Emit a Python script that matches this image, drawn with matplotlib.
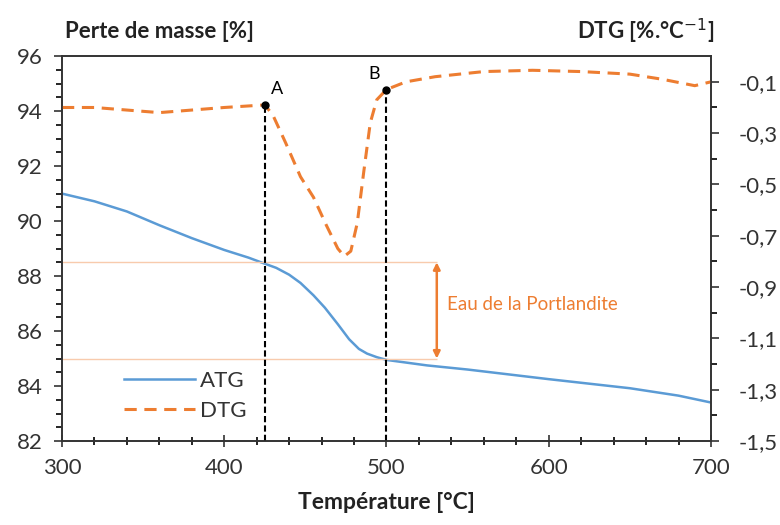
import numpy as np
import matplotlib
matplotlib.use('Agg')
import matplotlib.pyplot as plt
from matplotlib.ticker import MultipleLocator, FixedLocator, FuncFormatter

plt.rcParams['font.family'] = ['Lato', 'DejaVu Sans']

# ---- données ----
temp_atg = [300, 320, 340, 360, 380, 400, 415, 425, 432, 440, 447, 455, 462,
            470, 477, 483, 488, 494, 500, 525, 550, 600, 650, 680, 700]
atg = [91.0, 90.72, 90.35, 89.85, 89.38, 88.95, 88.67, 88.45, 88.3, 88.05,
       87.75, 87.3, 86.85, 86.25, 85.7, 85.35, 85.18, 85.05, 84.95, 84.75,
       84.6, 84.25, 83.92, 83.65, 83.4]

temp_dtg = [300, 320, 340, 360, 380, 400, 425, 430, 438, 447, 455, 463, 470,
            474, 478, 482, 486, 490, 494, 500, 512, 530, 560, 590, 620, 650,
            670, 690, 700]
dtg = [-0.20, -0.20, -0.21, -0.22, -0.21, -0.20, -0.19, -0.23, -0.34, -0.47,
       -0.55, -0.66, -0.75, -0.78, -0.76, -0.65, -0.45, -0.26, -0.17, -0.13,
       -0.10, -0.08, -0.06, -0.055, -0.06, -0.07, -0.09, -0.115, -0.10]

pts_label = ['A', 'B']
pts_temp = [425, 500]
pts_dtg = [-0.19, -0.13]

palier_haut = 88.5
palier_bas = 85.0
x_fleche = 531

orange = '#ED7D31'
bleu = '#5B9BD5'

fig = plt.figure(figsize=(7.8, 5.25), dpi=100)
ax = fig.add_axes([0.0795, 0.16, 0.832, 0.733])
ax2 = ax.twinx()

# ATG
l1, = ax.plot(temp_atg, atg, color=bleu, lw=1.8, label='ATG')
ax.set_xlim(300, 700)
ax.set_ylim(82, 96)
ax.yaxis.set_major_locator(MultipleLocator(2))
ax.yaxis.set_minor_locator(MultipleLocator(0.5))
ax.xaxis.set_major_locator(MultipleLocator(100))
ax.xaxis.set_minor_locator(MultipleLocator(20))
ax.tick_params(axis='y', which='major', direction='out', length=6, width=1.2,
               labelsize=16, colors='#333333', pad=8)
ax.tick_params(axis='y', which='minor', direction='out', length=4, width=1.2)
ax.tick_params(axis='x', which='major', direction='inout', length=8, width=1.2,
               labelsize=16, pad=8, colors='#333333')
ax.tick_params(axis='x', which='minor', direction='inout', length=6, width=1.2)

# paliers de masse
ax.hlines([palier_haut, palier_bas], 300, x_fleche, color='#F8CBAD', lw=1)
ax.annotate('', xy=(x_fleche, palier_bas), xytext=(x_fleche, palier_haut),
            arrowprops=dict(arrowstyle='<|-|>', color=orange, lw=1.8,
                            mutation_scale=10, shrinkA=0, shrinkB=0))
ax.text(x_fleche + 6, (palier_haut + palier_bas) / 2 + 0.2,
        'Eau de la Portlandite', color=orange, fontsize=13.5, va='center')

# DTG
l2, = ax2.plot(temp_dtg, dtg, color=orange, lw=2.2, dashes=(4, 2.5), label='DTG')
ax2.set_ylim(-1.5, 0)
ax2.yaxis.set_major_locator(FixedLocator(np.arange(-1.5, 0, 0.2)))
ax2.yaxis.set_minor_locator(FixedLocator(np.arange(-1.4, 0, 0.2)))
ax2.yaxis.set_major_formatter(FuncFormatter(lambda v, p: f'{v:.1f}'.replace('.', ',')))
ax2.tick_params(axis='y', which='major', direction='out', length=6, width=1.2,
                labelsize=16, pad=14, colors='#333333')
ax2.tick_params(axis='y', which='minor', direction='out', length=4, width=1.2)

# points A et B
ax2.vlines(pts_temp, -1.5, pts_dtg, colors='black', lw=1.5, linestyles=(0, (3, 1.5)))
ax2.plot(pts_temp, pts_dtg, 'o', color='black', ms=5, zorder=5)
ax2.text(pts_temp[0] + 4, pts_dtg[0] + 0.03, pts_label[0], fontsize=13, ha='left', va='bottom')
ax2.text(pts_temp[1] - 4, pts_dtg[1] + 0.03, pts_label[1], fontsize=13, ha='right', va='bottom')

for a in (ax, ax2):
    for s in a.spines.values():
        s.set_linewidth(1.2)
        s.set_color('#333333')

ax.legend(handles=[l1, l2], loc='lower left', bbox_to_anchor=(0.065, 0.0),
          frameon=False, fontsize=16, handlelength=3.2, handletextpad=0.2,
          labelspacing=0.45, labelcolor='#333333')

fig.text(0.083, 0.94, 'Perte de masse [%]', fontsize=16, fontweight='bold',
         ha='left', va='center', color='#222222')
fig.text(0.915, 0.94, 'DTG [%.°C$^{-1}$]', fontsize=16, fontweight='bold',
         ha='right', va='center', color='#222222')
ax.set_xlabel('Température [°C]', fontsize=16.5, fontweight='bold', labelpad=10,
              color='#222222')

fig.savefig('out.png', dpi=100)
